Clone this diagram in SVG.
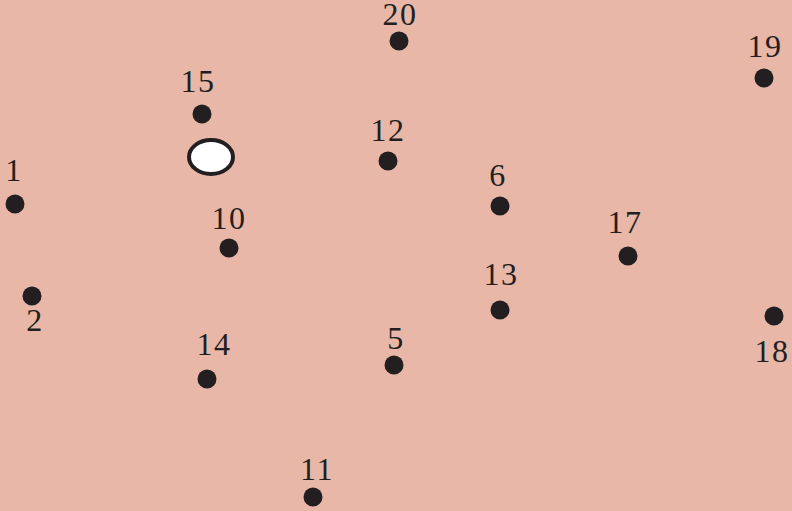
<svg xmlns="http://www.w3.org/2000/svg" width="792" height="511" viewBox="0 0 792 511">
<style>
.d{fill:#231f20}
.t{font-family:"Liberation Serif","DejaVu Serif",serif;font-size:32px;fill:#231f20;text-anchor:middle;letter-spacing:1.5px}
</style>
<rect width="792" height="511" fill="#e8b7a8"/>
<g id="connectors"></g>
<g id="start"><ellipse cx="211" cy="157" rx="22" ry="17" fill="#fff" stroke="#231f20" stroke-width="4"/></g>
<g id="n1"><circle class="d" cx="15" cy="204" r="9.5"/><text class="t" x="14" y="181">1</text></g>
<g id="n2"><circle class="d" cx="32" cy="296" r="9.5"/><text class="t" x="35" y="331">2</text></g>
<g id="n5"><circle class="d" cx="394" cy="365" r="9.5"/><text class="t" x="396" y="349">5</text></g>
<g id="n6"><circle class="d" cx="500" cy="206" r="9.5"/><text class="t" x="498" y="186">6</text></g>
<g id="n10"><circle class="d" cx="229" cy="248" r="9.5"/><text class="t" x="229" y="229">10</text></g>
<g id="n11"><circle class="d" cx="313" cy="497" r="9.5"/><text class="t" x="317" y="480">11</text></g>
<g id="n12"><circle class="d" cx="388" cy="161" r="9.5"/><text class="t" x="388" y="141">12</text></g>
<g id="n13"><circle class="d" cx="500" cy="310" r="9.5"/><text class="t" x="501" y="285">13</text></g>
<g id="n14"><circle class="d" cx="207" cy="379" r="9.5"/><text class="t" x="214" y="355">14</text></g>
<g id="n15"><circle class="d" cx="202" cy="114" r="9.5"/><text class="t" x="198" y="92">15</text></g>
<g id="n17"><circle class="d" cx="628" cy="256" r="9.5"/><text class="t" x="625" y="233">17</text></g>
<g id="n18"><circle class="d" cx="774" cy="316" r="9.5"/><text class="t" x="772" y="362">18</text></g>
<g id="n19"><circle class="d" cx="764" cy="78" r="9.5"/><text class="t" x="765" y="57">19</text></g>
<g id="n20"><circle class="d" cx="399" cy="41" r="9.5"/><text class="t" x="400" y="25">20</text></g>
</svg>
